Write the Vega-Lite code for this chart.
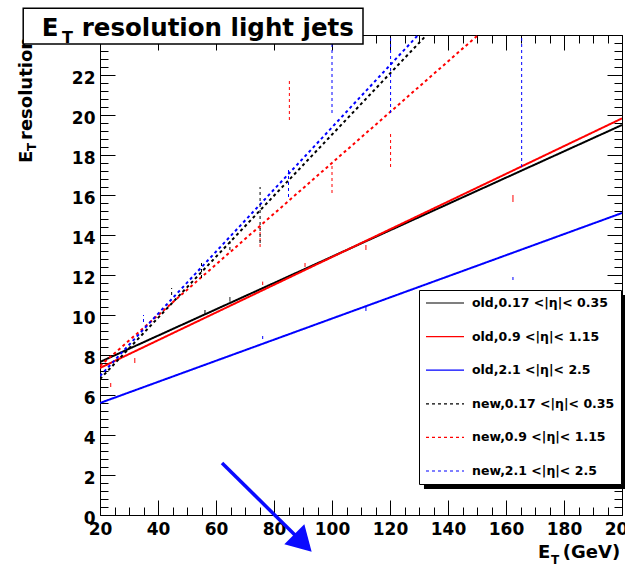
{
  "$schema": "https://vega.github.io/schema/vega-lite/v6.json",
  "width": 522,
  "height": 480,
  "autosize": {"type": "none"},
  "padding": {"left": 100, "top": 35, "right": 3, "bottom": 55},
  "background": "white",
  "config": {
    "view": {"stroke": "black", "strokeWidth": 1},
    "font": "DejaVu Sans"
  },
  "datasets": {
    "lines": [
      {"series": "old,0.17 <|η|< 0.35", "x": 20, "y": 7.65},
      {"series": "old,0.17 <|η|< 0.35", "x": 200, "y": 19.5},
      {"series": "old,0.9 <|η|< 1.15", "x": 20, "y": 7.35},
      {"series": "old,0.9 <|η|< 1.15", "x": 200, "y": 19.83},
      {"series": "old,2.1 <|η|< 2.5", "x": 20, "y": 5.6},
      {"series": "old,2.1 <|η|< 2.5", "x": 200, "y": 15.1},
      {"series": "new,0.17 <|η|< 0.35", "x": 20, "y": 6.8},
      {"series": "new,0.17 <|η|< 0.35", "x": 132.6, "y": 24},
      {"series": "new,0.9 <|η|< 1.15", "x": 20, "y": 7.45},
      {"series": "new,0.9 <|η|< 1.15", "x": 150, "y": 23.95},
      {"series": "new,2.1 <|η|< 2.5", "x": 20, "y": 6.95},
      {"series": "new,2.1 <|η|< 2.5", "x": 129.7, "y": 24}
    ],
    "errbars": [
      {"series": "new,2.1 <|η|< 2.5", "x": 100, "lo": 20.1, "hi": 24.5},
      {"series": "new,2.1 <|η|< 2.5", "x": 120.2, "lo": 20.1, "hi": 24.5},
      {"series": "new,2.1 <|η|< 2.5", "x": 165.4, "lo": 17.4, "hi": 24.5},
      {"series": "new,2.1 <|η|< 2.5", "x": 85, "lo": 15.9, "hi": 17.25},
      {"series": "new,2.1 <|η|< 2.5", "x": 35, "lo": 9.65, "hi": 10.0},
      {"series": "new,0.9 <|η|< 1.15", "x": 85.3, "lo": 19.75, "hi": 21.85},
      {"series": "new,0.9 <|η|< 1.15", "x": 100, "lo": 16.1, "hi": 17.6},
      {"series": "new,0.9 <|η|< 1.15", "x": 120.2, "lo": 17.4, "hi": 19.15},
      {"series": "new,0.9 <|η|< 1.15", "x": 75.2, "lo": 13.4, "hi": 14.6},
      {"series": "new,0.17 <|η|< 0.35", "x": 75.2, "lo": 13.6, "hi": 16.4},
      {"series": "new,0.17 <|η|< 0.35", "x": 64.8, "lo": 13.25, "hi": 13.85},
      {"series": "new,0.17 <|η|< 0.35", "x": 55, "lo": 11.85, "hi": 12.65},
      {"series": "new,0.17 <|η|< 0.35", "x": 44.7, "lo": 11.0, "hi": 11.35},
      {"series": "old,0.9 <|η|< 1.15", "x": 32, "lo": 7.6, "hi": 7.85},
      {"series": "old,0.9 <|η|< 1.15", "x": 23.7, "lo": 6.4, "hi": 6.6},
      {"series": "old,0.9 <|η|< 1.15", "x": 162.4, "lo": 15.65, "hi": 16.0},
      {"series": "old,0.9 <|η|< 1.15", "x": 111.7, "lo": 13.25, "hi": 13.5},
      {"series": "old,0.9 <|η|< 1.15", "x": 90.7, "lo": 12.4, "hi": 12.6},
      {"series": "old,0.9 <|η|< 1.15", "x": 76.1, "lo": 11.5, "hi": 11.67},
      {"series": "old,2.1 <|η|< 2.5", "x": 162.4, "lo": 11.75, "hi": 11.9},
      {"series": "old,2.1 <|η|< 2.5", "x": 111.7, "lo": 10.2, "hi": 10.4},
      {"series": "old,2.1 <|η|< 2.5", "x": 76.1, "lo": 8.8, "hi": 8.95},
      {"series": "old,0.17 <|η|< 0.35", "x": 64.8, "lo": 10.67, "hi": 10.9},
      {"series": "old,0.17 <|η|< 0.35", "x": 56.2, "lo": 10.0, "hi": 10.25}
    ]
  },
  "layer": [
    {
      "data": {"name": "lines"},
      "mark": {"type": "line", "strokeWidth": 2, "clip": true},
      "encoding": {
        "x": {
          "field": "x", "type": "quantitative",
          "scale": {"domain": [20, 200], "nice": false, "zero": false},
          "axis": {
            "orient": "bottom", "title": null, "grid": false, "domain": false,
            "values": [20,25,30,35,40,45,50,55,60,65,70,75,80,85,90,95,100,105,110,115,120,125,130,135,140,145,150,155,160,165,170,175,180,185,190,195,200],
            "labelExpr": "datum.value % 20 === 0 ? format(datum.value, 'd') : ''",
            "labelFont": "DejaVu Sans", "labelFontWeight": "bold", "labelFontSize": 17, "labelColor": "black",
            "labelOverlap": false, "labelFlush": false, "labelBound": false,
            "labelBaseline": "top", "labelPadding": 21,
            "tickColor": "black", "tickWidth": 1,
            "tickSize": {"condition": {"test": "datum.value % 20 === 0", "value": -15}, "value": -8}
          }
        },
        "y": {
          "field": "y", "type": "quantitative",
          "scale": {"domain": [0, 24], "nice": false, "zero": false},
          "axis": {
            "orient": "left", "title": null, "grid": false, "domain": false,
            "values": [0,0.4,0.8,1.2,1.6,2,2.4,2.8,3.2,3.6,4,4.4,4.8,5.2,5.6,6,6.4,6.8,7.2,7.6,8,8.4,8.8,9.2,9.6,10,10.4,10.8,11.2,11.6,12,12.4,12.8,13.2,13.6,14,14.4,14.8,15.2,15.6,16,16.4,16.8,17.2,17.6,18,18.4,18.8,19.2,19.6,20,20.4,20.8,21.2,21.6,22,22.4,22.8,23.2,23.6,24],
            "labelExpr": "datum.value % 2 === 0 && datum.value < 23 ? format(datum.value, 'd') : ''",
            "labelFont": "DejaVu Sans", "labelFontWeight": "bold", "labelFontSize": 17, "labelColor": "black",
            "labelOverlap": false, "labelFlush": false, "labelBound": false,
            "labelAlign": "right", "labelBaseline": "middle", "labelPadding": 20, "labelOffset": 3,
            "tickColor": "black", "tickWidth": 1,
            "tickSize": {"condition": {"test": "datum.value % 2 === 0", "value": -15}, "value": -8}
          }
        },
        "color": {
          "field": "series", "type": "nominal",
          "scale": {
            "domain": ["old,0.17 <|η|< 0.35", "old,0.9 <|η|< 1.15", "old,2.1 <|η|< 2.5", "new,0.17 <|η|< 0.35", "new,0.9 <|η|< 1.15", "new,2.1 <|η|< 2.5"],
            "range": ["#000000", "#ff0000", "#0000ff", "#000000", "#ff0000", "#0000ff"]
          },
          "legend": {
            "title": null, "orient": "none", "legendX": 319, "legendY": 255,
            "fillColor": "white", "strokeColor": "black", "padding": 6, "rowPadding": 19.6, "clipHeight": 14,
            "symbolType": "stroke", "symbolSize": 1444, "symbolStrokeWidth": 1.2,
            "labelFont": "DejaVu Sans", "labelFontWeight": "bold", "labelFontSize": 12.5,
            "labelColor": "black", "labelOffset": 7, "labelLimit": 300
          }
        },
        "strokeDash": {
          "field": "series", "type": "nominal",
          "scale": {
            "domain": ["old,0.17 <|η|< 0.35", "old,0.9 <|η|< 1.15", "old,2.1 <|η|< 2.5", "new,0.17 <|η|< 0.35", "new,0.9 <|η|< 1.15", "new,2.1 <|η|< 2.5"],
            "range": [[1, 0], [1, 0], [1, 0], [3, 3], [3, 3], [3, 3]]
          },
          "legend": {
            "title": null, "orient": "none", "legendX": 319, "legendY": 255,
            "fillColor": "white", "strokeColor": "black", "padding": 6, "rowPadding": 19.6, "clipHeight": 14,
            "symbolType": "stroke", "symbolSize": 1444, "symbolStrokeWidth": 1.2,
            "labelFont": "DejaVu Sans", "labelFontWeight": "bold", "labelFontSize": 12.5,
            "labelColor": "black", "labelOffset": 7, "labelLimit": 300
          }
        }
      }
    },
    {
      "data": {"name": "errbars"},
      "mark": {"type": "rule", "strokeWidth": 1, "clip": true},
      "encoding": {
        "x": {
          "field": "x", "type": "quantitative",
          "axis": {
            "orient": "top", "title": null, "grid": false, "domain": false, "labels": false,
            "values": [20,25,30,35,40,45,50,55,60,65,70,75,80,85,90,95,100,105,110,115,120,125,130,135,140,145,150,155,160,165,170,175,180,185,190,195,200],
            "tickColor": "black", "tickWidth": 1,
            "tickSize": {"condition": {"test": "datum.value % 20 === 0", "value": -15}, "value": -8}
          }
        },
        "y": {
          "field": "lo", "type": "quantitative",
          "axis": {
            "orient": "right", "title": null, "grid": false, "domain": false, "labels": false,
            "values": [0,0.4,0.8,1.2,1.6,2,2.4,2.8,3.2,3.6,4,4.4,4.8,5.2,5.6,6,6.4,6.8,7.2,7.6,8,8.4,8.8,9.2,9.6,10,10.4,10.8,11.2,11.6,12,12.4,12.8,13.2,13.6,14,14.4,14.8,15.2,15.6,16,16.4,16.8,17.2,17.6,18,18.4,18.8,19.2,19.6,20,20.4,20.8,21.2,21.6,22,22.4,22.8,23.2,23.6,24],
            "tickColor": "black", "tickWidth": 1,
            "tickSize": {"condition": {"test": "datum.value % 2 === 0", "value": -15}, "value": -8}
          }
        },
        "y2": {"field": "hi"},
        "color": {"field": "series", "type": "nominal"},
        "strokeDash": {"field": "series", "type": "nominal"}
      }
    },
    {
      "data": {"values": [{}]},
      "mark": {"type": "rect", "fill": "black"},
      "encoding": {
        "x": {"datum": 131.72, "type": "quantitative", "axis": null},
        "x2": {"datum": 201.38},
        "y": {"datum": 11.0, "type": "quantitative", "axis": null},
        "y2": {"datum": 1.3}
      }
    },
    {
      "data": {"values": [{}]},
      "mark": {"type": "text", "text": "E", "font": "DejaVu Sans", "fontWeight": "bold", "fontSize": 18, "angle": 270, "align": "left", "baseline": "alphabetic", "color": "black"},
      "encoding": {
        "x": {"datum": -3.45, "type": "quantitative", "axis": null},
        "y": {"datum": 17.6, "type": "quantitative", "axis": null}
      }
    },
    {
      "data": {"values": [{}]},
      "mark": {"type": "text", "text": "T", "font": "DejaVu Sans", "fontWeight": "bold", "fontSize": 12, "angle": 270, "align": "left", "baseline": "alphabetic", "color": "black"},
      "encoding": {
        "x": {"datum": -2.24, "type": "quantitative", "axis": null},
        "y": {"datum": 18.2, "type": "quantitative", "axis": null}
      }
    },
    {
      "data": {"values": [{}]},
      "mark": {"type": "text", "text": "resolution", "font": "DejaVu Sans", "fontWeight": "bold", "fontSize": 18, "angle": 270, "align": "left", "baseline": "alphabetic", "color": "black"},
      "encoding": {
        "x": {"datum": -3.45, "type": "quantitative", "axis": null},
        "y": {"datum": 18.75, "type": "quantitative", "axis": null}
      }
    },
    {
      "data": {"values": [{}]},
      "mark": {"type": "rect", "fill": "white", "stroke": "black", "strokeWidth": 1.5},
      "encoding": {
        "x": {"datum": -6.48, "type": "quantitative", "axis": null},
        "x2": {"datum": 110.69},
        "y": {"datum": 25.335, "type": "quantitative", "axis": null},
        "y2": {"datum": 23.55}
      }
    },
    {
      "data": {"values": [{}]},
      "mark": {"type": "text", "text": "E", "font": "DejaVu Sans", "fontWeight": "bold", "fontSize": 24.5, "align": "left", "baseline": "alphabetic", "color": "black"},
      "encoding": {
        "x": {"datum": -0.1, "type": "quantitative", "axis": null},
        "y": {"datum": 23.965, "type": "quantitative", "axis": null}
      }
    },
    {
      "data": {"values": [{}]},
      "mark": {"type": "text", "text": "T", "font": "DejaVu Sans", "fontWeight": "bold", "fontSize": 16, "align": "left", "baseline": "alphabetic", "color": "black"},
      "encoding": {
        "x": {"datum": 6.9, "type": "quantitative", "axis": null},
        "y": {"datum": 23.6, "type": "quantitative", "axis": null}
      }
    },
    {
      "data": {"values": [{}]},
      "mark": {"type": "text", "text": "resolution light jets", "font": "DejaVu Sans", "fontWeight": "bold", "fontSize": 24.5, "align": "left", "baseline": "alphabetic", "color": "black"},
      "encoding": {
        "x": {"datum": 13.69, "type": "quantitative", "axis": null},
        "y": {"datum": 23.965, "type": "quantitative", "axis": null}
      }
    },
    {
      "data": {"values": [{}]},
      "mark": {"type": "text", "text": "E", "font": "DejaVu Sans", "fontWeight": "bold", "fontSize": 18, "align": "left", "baseline": "alphabetic", "color": "black"},
      "encoding": {
        "x": {"datum": 171.03, "type": "quantitative", "axis": null},
        "y": {"datum": -2.15, "type": "quantitative", "axis": null}
      }
    },
    {
      "data": {"values": [{}]},
      "mark": {"type": "text", "text": "T", "font": "DejaVu Sans", "fontWeight": "bold", "fontSize": 12, "align": "left", "baseline": "alphabetic", "color": "black"},
      "encoding": {
        "x": {"datum": 175.52, "type": "quantitative", "axis": null},
        "y": {"datum": -2.45, "type": "quantitative", "axis": null}
      }
    },
    {
      "data": {"values": [{}]},
      "mark": {"type": "text", "text": "(GeV)", "font": "DejaVu Sans", "fontWeight": "bold", "fontSize": 18, "align": "left", "baseline": "alphabetic", "color": "black"},
      "encoding": {
        "x": {"datum": 179.6, "type": "quantitative", "axis": null},
        "y": {"datum": -2.15, "type": "quantitative", "axis": null}
      }
    },
    {
      "data": {"values": [{}]},
      "mark": {"type": "rule", "stroke": "#0a0aff", "strokeWidth": 3.5},
      "encoding": {
        "x": {"datum": 62.07, "type": "quantitative", "axis": null},
        "y": {"datum": 2.6, "type": "quantitative", "axis": null},
        "x2": {"datum": 88.97},
        "y2": {"datum": -1.25}
      }
    },
    {
      "data": {"values": [{}]},
      "mark": {"type": "point", "shape": "triangle-right", "angle": 45, "size": 800, "filled": true, "fill": "#0a0aff", "stroke": null, "opacity": 1},
      "encoding": {
        "x": {"datum": 90.0, "type": "quantitative", "axis": null},
        "y": {"datum": -1.4, "type": "quantitative", "axis": null}
      }
    }
  ],
  "resolve": {"axis": {"x": "independent", "y": "independent"}}
}
